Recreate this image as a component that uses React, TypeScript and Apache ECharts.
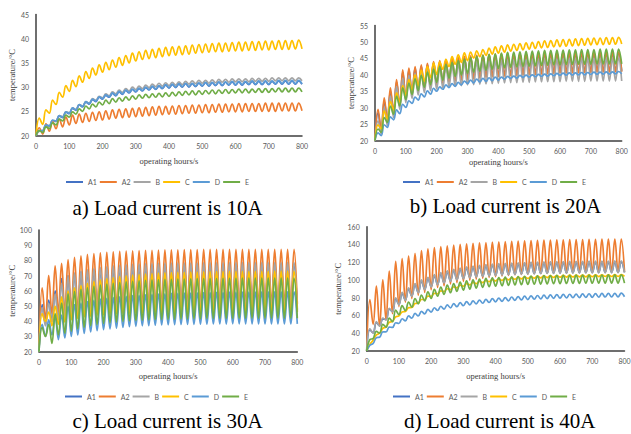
import React, { useEffect, useRef } from 'react';
import * as echarts from 'echarts';

const seriesNames = ['A1', 'A2', 'B', 'C', 'D', 'E'];
const seriesColors = ['#4472C4', '#ED7D31', '#A5A5A5', '#FFC000', '#5B9BD5', '#70AD47'];
const captions = ['a) Load current is 10A', 'b) Load current is 20A', 'c) Load current is 30A', 'd) Load current is 40A'];
const xAxisName = 'operating hours/s';
const yAxisName = 'temperature/\u00B0C';

// troughs at t = 0,20,...,800 ; peaks at t = 10,30,...,790
// ---- a) 10A
const a_A1_lo = [20,20.9,21.9,22.9,23.7,24.5,25.2,25.9,26.5,27.0,27.5,27.9,28.2,28.5,28.8,29.0,29.2,29.4,29.5,29.7,29.8,29.9,30.0,30.0,30.1,30.2,30.2,30.3,30.3,30.4,30.4,30.4,30.5,30.5,30.5,30.5,30.6,30.6,30.6,30.6,30.6];
const a_A1_hi = [20.9,22.1,23.1,24.0,24.8,25.6,26.3,26.9,27.4,27.9,28.3,28.7,29.0,29.3,29.5,29.7,29.9,30.1,30.2,30.4,30.5,30.6,30.7,30.7,30.8,30.9,30.9,31.0,31.0,31.1,31.1,31.1,31.2,31.2,31.2,31.2,31.3,31.3,31.3,31.3];
const a_A2_lo = [20,20.3,20.9,21.4,21.8,22.2,22.5,22.7,22.9,23.1,23.2,23.4,23.6,23.7,23.8,23.9,24.0,24.1,24.2,24.3,24.4,24.4,24.5,24.6,24.6,24.7,24.7,24.8,24.8,24.9,24.9,24.9,25.0,25.0,25.0,25.0,25.0,25.1,25.1,25.1,25.1];
const a_A2_hi = [21.6,22.4,22.9,23.4,23.8,24.2,24.4,24.6,24.8,24.9,25.1,25.3,25.4,25.5,25.6,25.7,25.8,25.9,26.0,26.0,26.1,26.2,26.2,26.3,26.3,26.4,26.4,26.5,26.5,26.5,26.6,26.6,26.6,26.6,26.7,26.7,26.7,26.7,26.7,26.7];
const a_B_lo = [20,21.0,22.0,23.0,23.9,24.7,25.4,26.1,26.7,27.3,27.8,28.2,28.6,28.9,29.2,29.5,29.7,29.9,30.1,30.2,30.3,30.4,30.5,30.6,30.7,30.8,30.8,30.9,31.0,31.0,31.1,31.1,31.1,31.2,31.2,31.2,31.3,31.3,31.3,31.3,31.3];
const a_B_hi = [20.9,22.1,23.1,24.1,24.9,25.7,26.4,27.0,27.6,28.1,28.6,29.0,29.4,29.7,30.0,30.2,30.4,30.6,30.8,30.9,31.0,31.1,31.2,31.3,31.4,31.4,31.5,31.6,31.6,31.7,31.7,31.7,31.8,31.8,31.8,31.9,31.9,31.9,31.9,31.9];
const a_C_lo = [20,22.3,24.6,26.4,27.9,29.1,30.1,31.0,31.8,32.5,33.1,33.6,34.1,34.5,35.0,35.4,35.7,35.9,36.1,36.3,36.5,36.6,36.7,36.8,37.0,37.1,37.2,37.3,37.3,37.4,37.5,37.5,37.6,37.6,37.7,37.7,37.8,37.8,37.8,37.9,37.9];
const a_C_hi = [23.6,25.3,27.3,28.9,30.3,31.4,32.3,33.2,33.9,34.6,35.1,35.6,36.1,36.5,37.0,37.3,37.6,37.8,38.0,38.2,38.3,38.4,38.5,38.7,38.8,38.9,39.0,39.1,39.1,39.2,39.3,39.3,39.4,39.4,39.5,39.5,39.6,39.6,39.6,39.7];
const a_D_lo = [20,21.0,22.0,23.0,23.8,24.6,25.3,26.0,26.6,27.1,27.6,28.0,28.3,28.6,28.9,29.1,29.3,29.5,29.6,29.8,29.9,30.0,30.1,30.1,30.2,30.3,30.3,30.4,30.4,30.5,30.5,30.5,30.6,30.6,30.6,30.6,30.7,30.7,30.7,30.7,30.7];
const a_D_hi = [21.0,22.2,23.2,24.1,24.9,25.7,26.4,27.0,27.5,28.0,28.4,28.8,29.1,29.4,29.6,29.8,30.0,30.2,30.3,30.5,30.6,30.7,30.8,30.8,30.9,31.0,31.0,31.1,31.1,31.2,31.2,31.2,31.3,31.3,31.3,31.3,31.4,31.4,31.4,31.4];
const a_E_lo = [20,20.6,21.4,22.2,23.0,23.8,24.4,25.0,25.5,25.9,26.3,26.6,26.9,27.1,27.3,27.5,27.7,27.8,27.9,28.0,28.1,28.2,28.3,28.4,28.4,28.5,28.6,28.6,28.7,28.7,28.8,28.8,28.8,28.9,28.9,28.9,29.0,29.0,29.0,29.0,29.0];
const a_E_hi = [21.0,21.8,22.6,23.4,24.2,24.9,25.5,26.1,26.5,26.9,27.3,27.6,27.8,28.0,28.2,28.4,28.5,28.6,28.7,28.8,28.9,29.0,29.1,29.2,29.2,29.3,29.4,29.4,29.5,29.5,29.6,29.6,29.6,29.7,29.7,29.7,29.8,29.8,29.8,29.8];

// ---- b) 20A
const b_A1_lo = [20,23.3,26.3,28.8,30.8,32.8,34.3,35.3,36.1,36.8,37.3,37.7,38.1,38.4,38.7,38.9,39.1,39.3,39.5,39.7,39.8,39.9,40.0,40.1,40.2,40.3,40.4,40.5,40.6,40.7,40.8,40.8,40.9,40.9,41.0,41.0,41.1,41.1,41.1,41.2,41.2];
const b_A1_hi = [28.5,32.0,35.0,37.8,40.8,41.5,42.0,42.6,43.1,43.6,43.9,44.3,44.7,45.0,45.3,45.5,45.7,45.8,45.9,46.0,46.1,46.2,46.2,46.3,46.3,46.4,46.4,46.5,46.5,46.5,46.6,46.6,46.6,46.6,46.7,46.7,46.7,46.7,46.7,46.7];
const b_A2_lo = [20,23.0,26.0,28.5,30.5,32.5,34.0,35.0,35.8,36.5,37.0,37.4,37.8,38.1,38.4,38.6,38.8,39.0,39.2,39.4,39.5,39.6,39.7,39.8,39.9,40.0,40.1,40.2,40.3,40.4,40.5,40.5,40.6,40.6,40.7,40.7,40.8,40.8,40.8,40.9,40.9];
const b_A2_hi = [29.5,33.0,36.0,38.5,41.5,42.0,42.5,43.0,43.5,44.0,44.3,44.6,45.0,45.3,45.6,45.8,46.0,46.1,46.2,46.3,46.4,46.5,46.5,46.6,46.6,46.7,46.7,46.8,46.8,46.8,46.9,46.9,46.9,46.9,47.0,47.0,47.0,47.0,47.0,47.0];
const b_B_lo = [20,22.0,24.5,27.0,29.5,31.5,32.8,33.8,34.6,35.2,35.6,36.0,36.3,36.5,36.7,36.9,37.0,37.1,37.2,37.3,37.4,37.5,37.6,37.6,37.7,37.7,37.8,37.8,37.9,37.9,37.9,38.0,38.0,38.0,38.0,38.1,38.1,38.1,38.1,38.1,38.1];
const b_B_hi = [26.0,30.0,33.5,36.5,39.0,39.8,40.4,41.0,41.5,42.0,42.4,42.7,43.0,43.3,43.5,43.7,43.9,44.0,44.1,44.2,44.3,44.4,44.5,44.6,44.6,44.7,44.7,44.8,44.8,44.8,44.9,44.9,44.9,45.0,45.0,45.0,45.0,45.0,45.1,45.1];
const b_C_lo = [20,23.5,26.5,29.3,31.7,33.7,35.3,36.7,38.0,39.1,40.1,41.7,42.5,43.2,43.8,44.3,45.1,45.5,45.9,46.3,46.6,46.9,47.2,47.4,47.6,47.8,48.0,48.2,48.3,48.5,48.6,48.7,48.8,48.9,49.0,49.1,49.2,49.2,49.3,49.3,49.4];
const b_C_hi = [24.8,29.0,31.9,34.5,36.7,38.5,40.0,41.4,42.6,43.6,43.9,44.7,45.5,46.1,46.7,46.9,47.3,47.7,48.1,48.5,48.8,49.1,49.3,49.5,49.7,49.9,50.1,50.3,50.4,50.6,50.7,50.8,50.9,51.0,51.1,51.2,51.2,51.3,51.3,51.4];
const b_D_lo = [20,21.5,24.0,26.3,28.2,30.1,31.3,32.3,33.3,34.1,35.0,35.6,36.1,36.5,36.9,37.3,37.5,37.8,38.0,38.2,38.4,38.7,38.9,39.0,39.2,39.3,39.4,39.5,39.6,39.7,39.8,39.9,39.9,40.0,40.0,40.1,40.1,40.2,40.2,40.3,40.3];
const b_D_hi = [22.3,24.8,27.2,29.3,31.0,32.1,33.2,34.2,35.1,35.9,36.3,36.9,37.3,37.7,38.1,38.4,38.7,38.9,39.1,39.3,39.3,39.5,39.6,39.8,39.9,40.0,40.1,40.2,40.3,40.4,40.5,40.6,40.6,40.7,40.7,40.8,40.8,40.9,40.9,41.0];
const b_E_lo = [20,22.5,25.5,28.0,30.5,32.5,34.0,35.2,36.2,37.0,37.7,38.4,39.0,39.5,40.0,40.4,40.8,41.1,41.4,41.7,41.9,42.1,42.3,42.4,42.5,42.6,42.7,42.8,42.9,43.0,43.0,43.1,43.1,43.2,43.2,43.2,43.3,43.3,43.3,43.3,43.3];
const b_E_hi = [23.5,27.0,30.5,33.5,36.0,37.5,38.8,39.8,40.8,41.7,42.5,43.2,43.8,44.3,44.8,45.2,45.6,45.9,46.2,46.4,46.6,46.8,46.9,47.0,47.1,47.2,47.3,47.4,47.4,47.5,47.5,47.6,47.6,47.7,47.7,47.7,47.8,47.8,47.8,47.8];

// ---- c) 30A
const c_A1_lo = [20,38,40,41,42,43,43.8,44.4,44.9,45.3,45.6,45.9,46.1,46.3,46.5,46.6,46.7,46.8,46.9,46.9,47,47,47,47.1,47.1,47.1,47.1,47.2,47.2,47.2,47.2,47.2,47.2,47.2,47.2,47.2,47.2,47.2,47.2,47.2,47.2];
const c_A1_hi = [51,54,60,68,70,71.5,72.5,73.3,74,74.6,75.1,75.5,75.9,76.2,76.5,76.7,76.9,77,77.1,77.2,77.3,77.3,77.4,77.4,77.4,77.5,77.5,77.5,77.5,77.5,77.6,77.6,77.6,77.6,77.6,77.6,77.6,77.6,77.6,77.6];
const c_A2_lo = [20,42,45,46,46.5,47,48,48.5,49,49.4,49.7,50,50.2,50.4,50.6,50.7,50.8,50.9,51,51,51.1,51.1,51.2,51.2,51.2,51.3,51.3,51.3,51.3,51.4,51.4,51.4,51.4,51.4,51.5,51.5,51.5,51.5,51.5,51.5,51.5];
const c_A2_hi = [62,70,76.5,78,80.5,82,83,84,84.5,85,85.3,85.6,85.9,86.1,86.3,86.5,86.6,86.7,86.8,86.9,87,87,87.1,87.1,87.1,87.2,87.2,87.2,87.2,87.3,87.3,87.3,87.3,87.3,87.3,87.3,87.3,87.3,87.3,87.3];
const c_B_lo = [20,37,39.5,41,42.5,43.5,44.5,45.2,45.8,46.3,46.7,47,47.3,47.5,47.7,47.8,47.9,48,48.1,48.1,48.2,48.2,48.2,48.3,48.3,48.3,48.3,48.3,48.4,48.4,48.4,48.4,48.4,48.4,48.4,48.4,48.4,48.4,48.4,48.4,48.4];
const c_B_hi = [49,52,58,65,69.5,71.5,72.8,73.8,74.6,75.3,75.9,76.4,76.8,77.1,77.4,77.6,77.8,77.9,78,78.1,78.2,78.2,78.3,78.3,78.3,78.4,78.4,78.4,78.4,78.4,78.5,78.5,78.5,78.5,78.5,78.5,78.5,78.5,78.5,78.5];
const c_C_lo = [20,40,37,38,39.5,41,42,42.8,43.4,43.9,44.3,44.6,44.9,45.1,45.3,45.4,45.5,45.6,45.7,45.8,45.8,45.9,45.9,45.9,46,46,46,46,46,46,46,46,46,46,46,46,46,46,46,46,46];
const c_C_hi = [45,46,50,56,60,62,63.5,65,66.2,67.2,68,68.7,69.3,69.8,70.3,70.7,71,71.3,71.6,71.8,72,72.1,72.2,72.3,72.4,72.5,72.6,72.7,72.7,72.8,72.8,72.8,72.9,72.9,72.9,72.9,73,73,73,73];
const c_D_lo = [20,30,31,28,29,30,31,32,33,33.8,34.5,35,35.5,36,36.4,36.7,37,37.2,37.4,37.6,37.7,37.8,37.9,38,38,38.1,38.1,38.2,38.2,38.2,38.3,38.3,38.3,38.3,38.3,38.3,38.3,38.3,38.3,38.3,38.3];
const c_D_hi = [38,41,43,44,50,51,52,53,53.8,54.5,55,55.5,56,56.4,56.8,57.1,57.4,57.7,57.9,58.1,58.3,58.4,58.5,58.6,58.7,58.8,58.9,59,59,59.1,59.1,59.2,59.2,59.2,59.3,59.3,59.3,59.3,59.3,59.3];
const c_E_lo = [20,30,25.5,31,32,33.5,35,36,37,37.8,38.5,39,39.5,39.9,40.2,40.5,40.7,40.9,41.1,41.2,41.3,41.4,41.5,41.6,41.7,41.7,41.8,41.8,41.9,41.9,41.9,42,42,42,42,42,42,42,42,42,42];
const c_E_hi = [36,38,45,52,58,59.5,61,62,63,63.8,64.5,65,65.5,65.9,66.3,66.6,66.9,67.1,67.3,67.5,67.6,67.7,67.8,67.9,68,68,68.1,68.1,68.2,68.2,68.2,68.3,68.3,68.3,68.3,68.3,68.3,68.3,68.3,68.3];

// ---- d) 40A
const d_A1_lo = [20,40.5,48.5,55.5,64.5,72.5,77.5,82,86,89.5,92.5,95,97.1,98.9,100.5,101.8,102.9,103.8,104.5,105.1,105.6,106,106.4,106.7,107,107.2,107.4,107.6,107.8,107.9,108,108.1,108.2,108.3,108.4,108.5,108.5,108.6,108.6,108.7,108.7];
const d_A1_hi = [44,52,56,67,79,85,90,95,99,102,105,107.3,109.3,111,112.5,113.7,114.7,115.5,116.2,116.8,117.3,117.7,118.1,118.4,118.7,119,119.2,119.4,119.6,119.7,119.8,119.9,120,120.1,120.2,120.2,120.3,120.3,120.4,120.4];
const d_A2_lo = [20,50,48,55,62,70,75,79,83,86,89,91.5,93.5,95.5,97,98.5,99.8,101,102,103,103.8,104.5,105.1,105.7,106.2,106.6,107,107.3,107.6,107.9,108.1,108.3,108.5,108.7,108.8,108.9,109,109.1,109.2,109.3,109.4];
const d_A2_hi = [78,93,100,110,121,124,127,130,133,135,136.5,137.5,138.5,139.3,140,140.6,141.2,141.7,142.2,142.6,143,143.3,143.6,143.9,144.2,144.4,144.6,144.8,145,145.2,145.3,145.4,145.5,145.6,145.7,145.8,145.9,146,146,146];
const d_B_lo = [20,40,48,55,64,72,77,81.5,85.5,89,92,94.5,96.6,98.4,100,101.3,102.4,103.3,104,104.6,105.1,105.5,105.9,106.2,106.5,106.7,106.9,107.1,107.3,107.4,107.5,107.6,107.7,107.8,107.9,108,108,108.1,108.1,108.2,108.2];
const d_B_hi = [45,53,57,68,80,86,91,96,100,103,106,108.3,110.3,112,113.5,114.7,115.7,116.5,117.2,117.8,118.3,118.7,119.1,119.4,119.7,120,120.2,120.4,120.6,120.7,120.8,120.9,121,121.1,121.2,121.2,121.3,121.3,121.4,121.4];
const d_C_lo = [20,32,40,47,53.5,59.5,64.5,69,74,78,81.5,84.5,87,89.2,91.2,93,94.5,95.8,97,98,98.9,99.6,100.2,100.8,101.3,101.7,102.1,102.4,102.7,102.9,103.1,103.3,103.4,103.5,103.6,103.7,103.8,103.9,103.9,104,104];
const d_C_hi = [27.5,38,45.5,52.3,58.5,64,68.8,73.5,78,81.8,85,87.8,90.1,92.2,94.1,95.8,97.2,98.4,99.5,100.5,101.3,101.9,102.5,103.1,103.5,103.9,104.3,104.6,104.8,105,105.2,105.4,105.5,105.6,105.7,105.8,105.9,105.9,106,106];
const d_D_lo = [20,28.5,35.5,41.5,46.5,51,54,57,59.5,61.8,63.8,65.6,67.2,68.6,69.9,71,72,73,73.8,74.6,75.3,75.9,76.5,77,77.5,77.9,78.3,78.7,79,79.3,79.6,79.8,80,80.2,80.4,80.5,80.7,80.8,80.9,81,81.1];
const d_D_hi = [26.5,35,41.5,47,51.8,56.3,59.5,62.3,64.7,66.8,68.7,70.4,71.9,73.3,74.5,75.5,76.5,77.4,78.2,79,79.6,80.2,80.8,81.3,81.7,82.1,82.5,82.9,83.2,83.5,83.7,83.9,84.1,84.3,84.5,84.6,84.8,84.9,85,85.1];
const d_E_lo = [20,34,40,47,53,61,65.5,69.5,73,76.3,79.2,81.7,83.8,85.6,87.2,88.6,89.8,90.8,91.7,92.4,93,93.5,94,94.4,94.7,95,95.2,95.4,95.6,95.8,95.9,96,96.1,96.2,96.3,96.3,96.4,96.4,96.5,96.5,96.5];
const d_E_hi = [33,42,50,57,66,71,75,79,83,86.5,89.5,92,94.2,96,97.6,98.9,100,100.9,101.7,102.3,102.8,103.2,103.6,103.9,104.2,104.4,104.6,104.8,105,105.1,105.2,105.3,105.4,105.5,105.5,105.6,105.6,105.7,105.7,105.7];

function zig(lo: number[], hi: number[]): [number, number][] {
  const out: [number, number][] = [];
  for (let i = 0; i < lo.length; i++) {
    out.push([i * 20, lo[i]]);
    if (i < hi.length) out.push([i * 20 + 10, hi[i]]);
  }
  return out;
}

const panelData = [
  [zig(a_A1_lo, a_A1_hi), zig(a_A2_lo, a_A2_hi), zig(a_B_lo, a_B_hi), zig(a_C_lo, a_C_hi), zig(a_D_lo, a_D_hi), zig(a_E_lo, a_E_hi)],
  [zig(b_A1_lo, b_A1_hi), zig(b_A2_lo, b_A2_hi), zig(b_B_lo, b_B_hi), zig(b_C_lo, b_C_hi), zig(b_D_lo, b_D_hi), zig(b_E_lo, b_E_hi)],
  [zig(c_A1_lo, c_A1_hi), zig(c_A2_lo, c_A2_hi), zig(c_B_lo, c_B_hi), zig(c_C_lo, c_C_hi), zig(c_D_lo, c_D_hi), zig(c_E_lo, c_E_hi)],
  [zig(d_A1_lo, d_A1_hi), zig(d_A2_lo, d_A2_hi), zig(d_B_lo, d_B_hi), zig(d_C_lo, d_C_hi), zig(d_D_lo, d_D_hi), zig(d_E_lo, d_E_hi)],
];

const yRanges = [
  { min: 20, max: 45, interval: 5 },
  { min: 20, max: 55, interval: 5 },
  { min: 20, max: 100, interval: 10 },
  { min: 20, max: 160, interval: 20 },
];

const layout = [
  { grid: { left: 36, top: 14.5, width: 266, height: 121 }, yNameGap: 20, xNameGap: 21, legend: { left: 66, top: 178.5 }, cap: { x: 167.5, y: 207.5 } },
  { grid: { left: 375, top: 25.5, width: 246.7, height: 115 }, yNameGap: 20, xNameGap: 17, legend: { left: 403, top: 178.5 }, cap: { x: 505.5, y: 206 } },
  { grid: { left: 39, top: 230, width: 258.3, height: 121.7 }, yNameGap: 23, xNameGap: 20, legend: { left: 65, top: 393 }, cap: { x: 167.5, y: 420.5 } },
  { grid: { left: 366.7, top: 226.7, width: 257.8, height: 124.3 }, yNameGap: 24, xNameGap: 20.5, legend: { left: 393, top: 393 }, cap: { x: 499.7, y: 420.5 } },
];

export default function App() {
  const ref = useRef<HTMLDivElement>(null);
  useEffect(() => {
    if (!ref.current) return;
    const chart = echarts.init(ref.current, undefined, { renderer: 'svg' });
    const grids: any[] = [];
    const xAxes: any[] = [];
    const yAxes: any[] = [];
    const legends: any[] = [];
    const series: any[] = [];
    const graphics: any[] = [];
    layout.forEach((L, p) => {
      grids.push({ ...L.grid, containLabel: false, outerBoundsMode: 'none' });
      xAxes.push({
        type: 'value', gridIndex: p, min: 0, max: 800, interval: 100,
        name: xAxisName, nameLocation: 'middle', nameGap: L.xNameGap, nameMoveOverlap: false,
        nameTextStyle: { fontFamily: 'Liberation Serif', fontSize: 8.5, color: '#404040' },
        axisLine: { show: true, onZero: false, lineStyle: { color: '#3f3f3f', width: 1.5 } },
        axisTick: { show: false },
        splitLine: { show: false },
        axisLabel: { margin: 6.5, fontFamily: 'Lato', fontSize: 7, color: '#595959' },
      });
      yAxes.push({
        type: 'value', gridIndex: p, min: yRanges[p].min, max: yRanges[p].max, interval: yRanges[p].interval,
        name: yAxisName, nameLocation: 'middle', nameGap: L.yNameGap, nameMoveOverlap: false,
        nameTextStyle: { fontFamily: 'Liberation Serif', fontSize: 8.5, color: '#404040' },
        axisLine: { show: true, lineStyle: { color: '#3f3f3f', width: 1.5 } },
        axisTick: { show: false },
        splitLine: { show: false },
        axisLabel: { margin: 7, fontFamily: 'Lato', fontSize: 7, color: '#595959' },
      });
      legends.push({
        data: seriesNames, left: L.legend.left, top: L.legend.top, padding: 0,
        icon: 'rect', itemWidth: 17, itemHeight: 2, itemGap: 3,
        textStyle: { fontFamily: 'Lato', fontSize: 7, color: '#595959' },
      });
      panelData[p].forEach((d, s) => {
        series.push({
          type: 'line', name: seriesNames[s], xAxisIndex: p, yAxisIndex: p,
          data: d, showSymbol: false, symbol: 'none', smooth: 0.4,
          color: seriesColors[s],
          lineStyle: { color: seriesColors[s], width: 1.7 },
          itemStyle: { color: seriesColors[s] },
        });
      });
      graphics.push({
        type: 'text', x: L.cap.x, y: L.cap.y,
        style: { text: captions[p], fontFamily: 'Liberation Serif', fontSize: 21, fill: '#000', textAlign: 'center', textVerticalAlign: 'middle' },
      });
    });
    chart.setOption({
      animation: false,
      backgroundColor: '#ffffff',
      grid: grids, xAxis: xAxes, yAxis: yAxes, legend: legends, series, graphic: graphics,
    });
    return () => chart.dispose();
  }, []);
  return <div ref={ref} style={{ position: 'fixed', left: 0, top: 0, width: 631, height: 434 }} />;
}
